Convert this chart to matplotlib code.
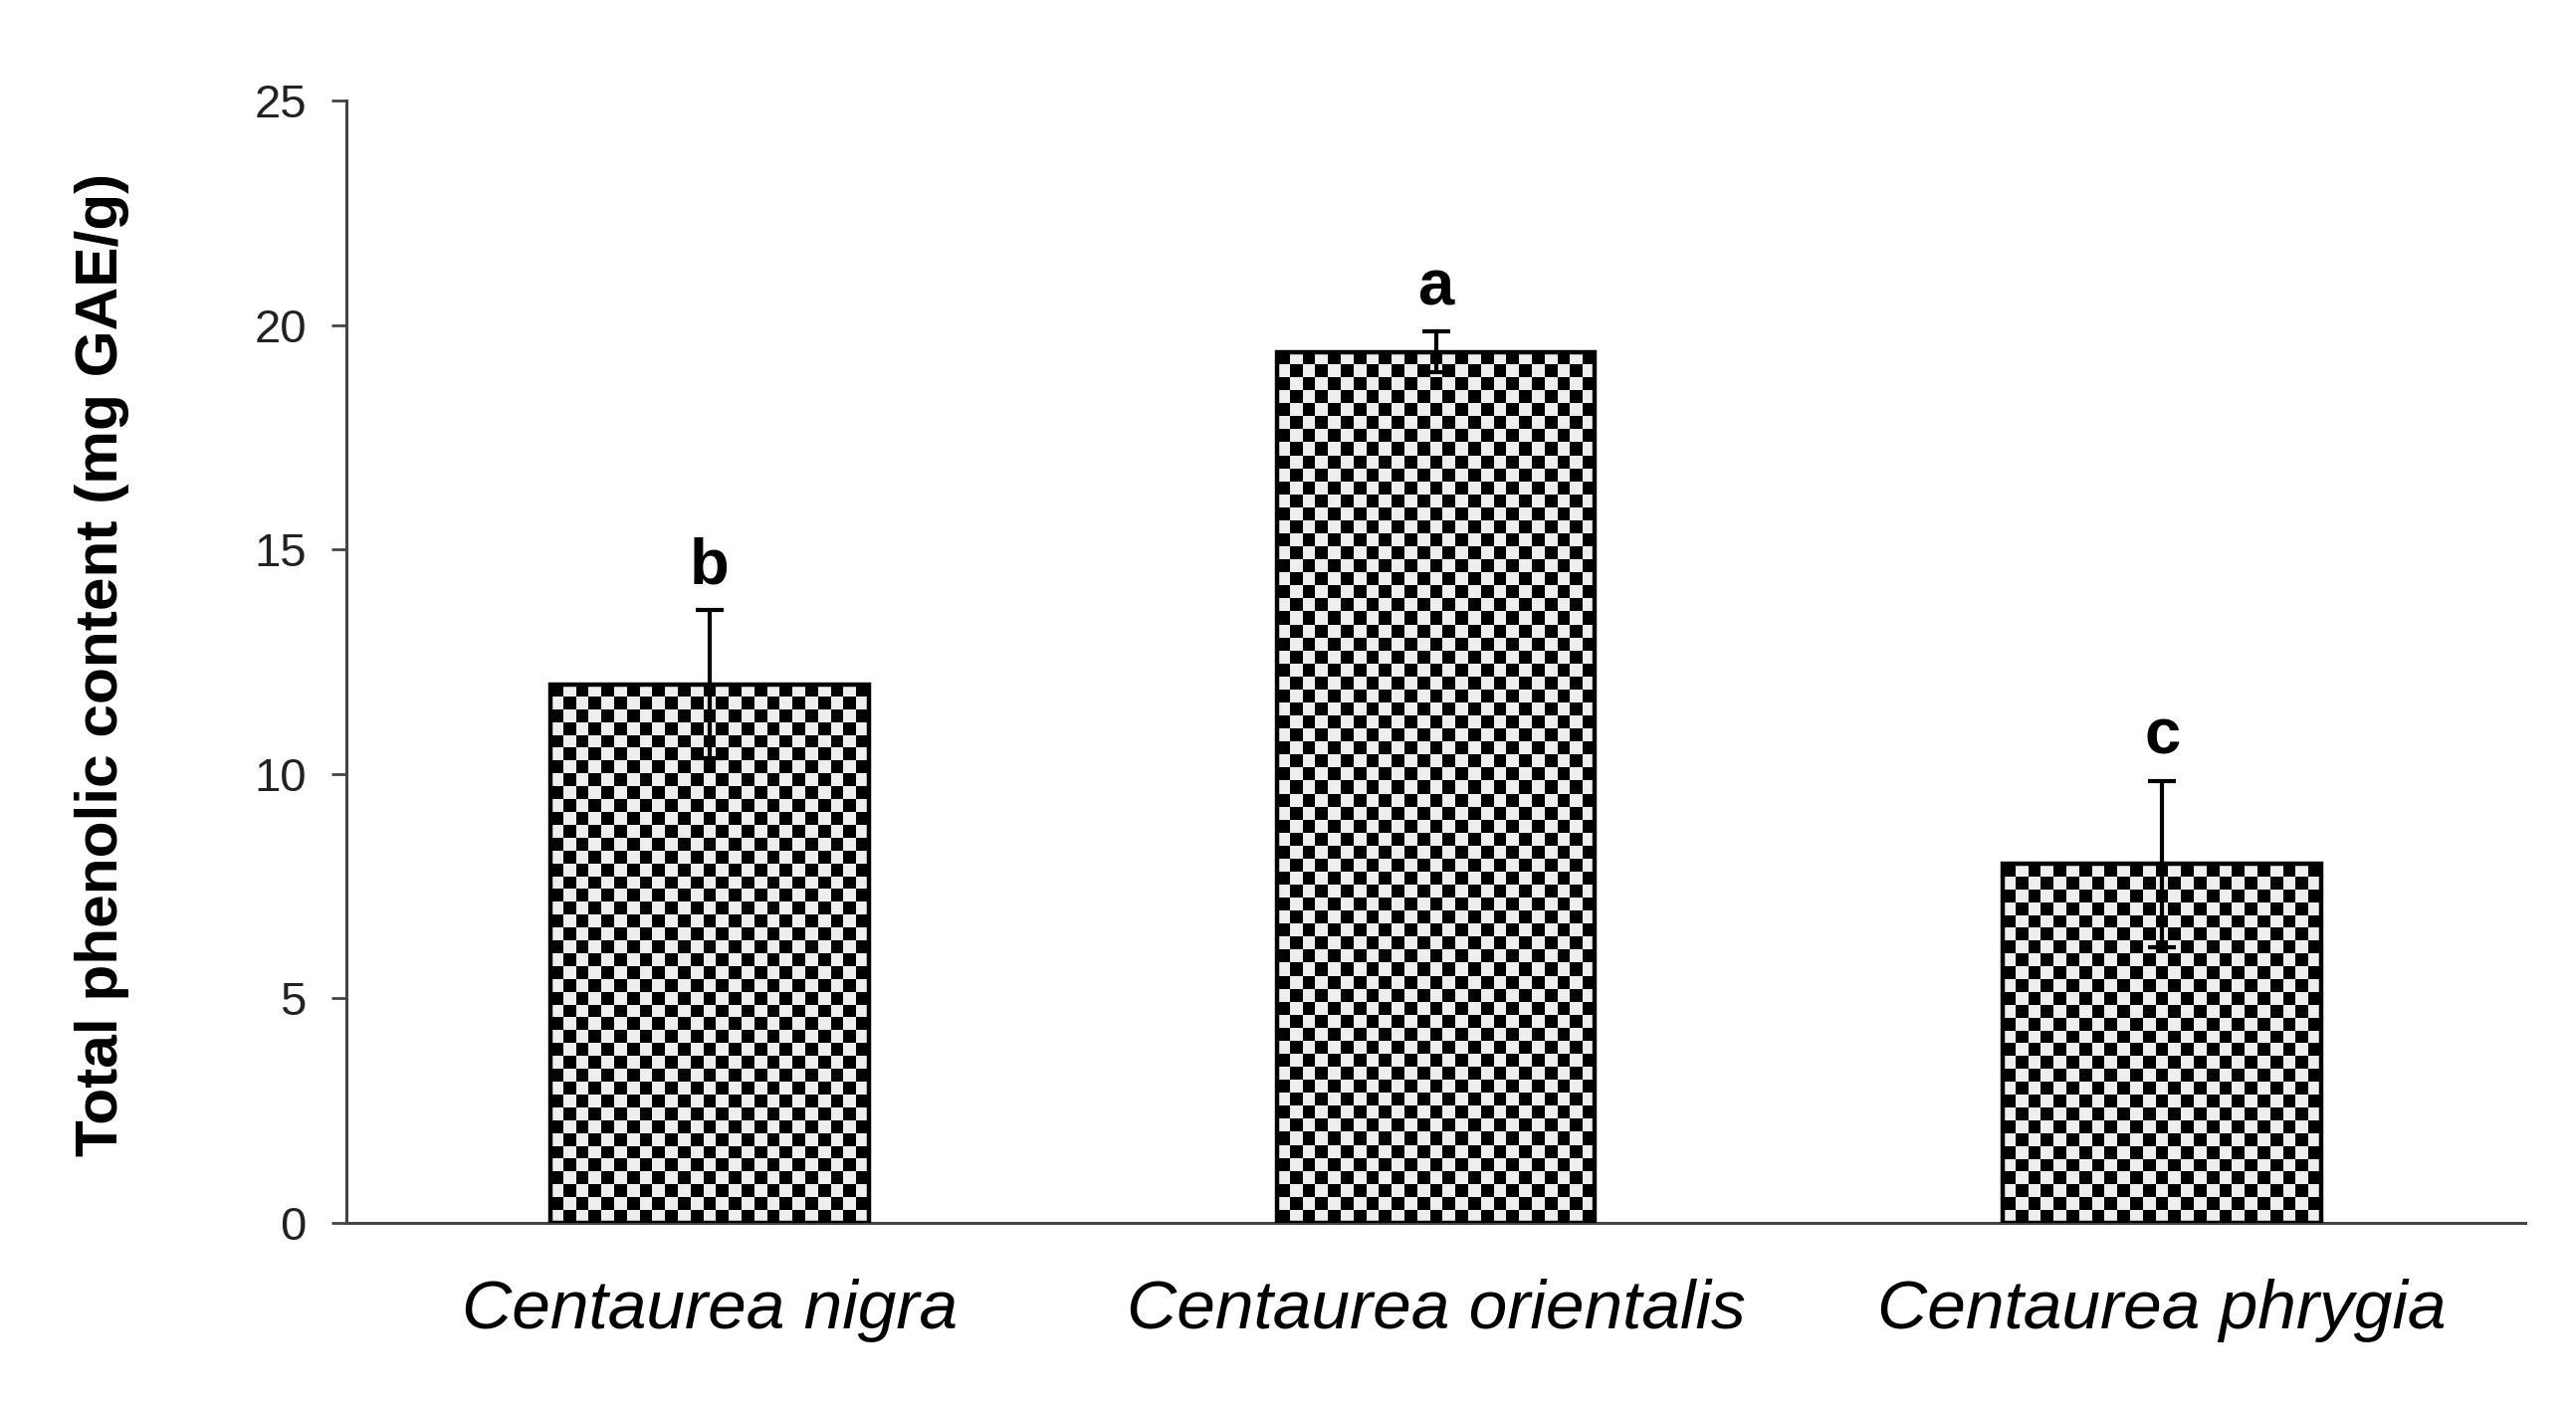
import numpy as np
import matplotlib
matplotlib.use("Agg")
import matplotlib.pyplot as plt
from matplotlib.colors import ListedColormap

species = ["Centaurea nigra", "Centaurea orientalis", "Centaurea phrygia"]
tpc = [12.0, 19.4, 8.0]
tpc_err = [1.65, 0.45, 1.85]
letters = ["b", "a", "c"]
yticks = [0, 5, 10, 15, 20, 25]

plt.rcParams["font.family"] = ["Liberation Sans", "DejaVu Sans"]

fig = plt.figure(figsize=(25.88, 14.08), dpi=100)
ax = fig.add_axes([0.1345, 0.1271, 0.9803 - 0.1345, 0.9283 - 0.1271])

x = np.arange(len(species))
bars = ax.bar(x, tpc, width=0.438, facecolor="none", edgecolor="black",
              linewidth=3.2, zorder=3)
ax.set_xlim(-0.5, len(species) - 0.5)
ax.set_ylim(0, 25)

# checkerboard fill clipped to each bar
cell = 13.0
cmap = ListedColormap(["#000000", "#eeeeee"])
for b in bars:
    x0, y0 = b.get_x(), b.get_y()
    w, h = b.get_width(), b.get_height()
    p0 = ax.transData.transform((x0, y0))
    p1 = ax.transData.transform((x0 + w, y0 + h))
    nc = max(1, int(round((p1[0] - p0[0]) / cell)))
    nr = max(1, int(round((p1[1] - p0[1]) / cell)))
    img = np.add.outer(np.arange(nr), np.arange(nc)) % 2
    im = ax.imshow(img, cmap=cmap, extent=(x0, x0 + w, y0, y0 + h),
                   origin="upper", interpolation="nearest", aspect="auto",
                   zorder=2)
    im.set_clip_path(b)

ax.set_xlim(-0.5, len(species) - 0.5)
ax.set_ylim(0, 25)

ax.errorbar(x, tpc, yerr=tpc_err, fmt="none", ecolor="black", elinewidth=3,
            capsize=10, capthick=3, zorder=4)

for xi, v, e, lab in zip(x, tpc, tpc_err, letters):
    ax.text(xi, v + e + 0.6, lab, ha="center", va="baseline", fontsize=47,
            fontweight="bold", color="black")

for s in ["top", "right"]:
    ax.spines[s].set_visible(False)
for s in ["left", "bottom"]:
    ax.spines[s].set_color("#444444")
    ax.spines[s].set_linewidth(2.2)

ax.set_yticks(yticks)
ax.set_yticklabels([str(t) for t in yticks])
ax.tick_params(axis="y", length=11, width=2, color="#444444", pad=18,
               labelsize=34, labelcolor="#222222")
ax.set_xticks(x)
ax.set_xticklabels(species, fontstyle="italic", fontsize=50)
ax.tick_params(axis="x", length=0, pad=40, labelcolor="black")

ax.set_ylabel("Total phenolic content (mg GAE/g)", fontsize=43.5,
              fontweight="bold")
ax.yaxis.label.set_va("center")
ax.yaxis.set_label_coords(-0.112, 0.497)

fig.savefig("out.png", dpi=100, facecolor="white")
